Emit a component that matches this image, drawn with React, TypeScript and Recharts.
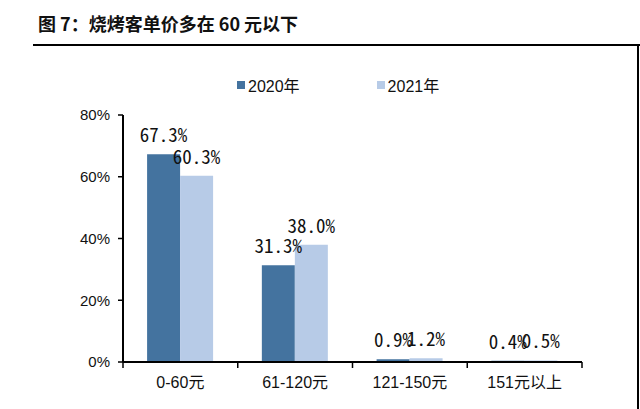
import { BarChart, Bar, XAxis, YAxis, LabelList, Legend } from 'recharts'

const categories = ['0-60元', '61-120元', '121-150元', '151元以上']
const series2020 = [67.3, 31.3, 0.9, 0.4]
const series2021 = [60.3, 38.0, 1.2, 0.5]
const yTicks = [0, 20, 40, 60, 80]

const seriesNames = ['2020年', '2021年']
const colors = ['#44739F', '#B7CBE7']

const data = categories.map((cat, i) => ({
  cat,
  y2020: series2020[i],
  y2021: series2021[i],
}))

const labelFont = '"Noto Sans Mono CJK SC", "DejaVu Sans Mono", monospace'
const axisFont = '"Liberation Sans", "Noto Sans CJK SC", sans-serif'

function CatTick(props: any) {
  const { x, y, payload, index, visibleTicksCount } = props
  const half = payload.offset || 0
  const last = index === visibleTicksCount - 1
  return (
    <g>
      <line x1={x - half} x2={x - half} y1={y} y2={y + 6} stroke="#000" strokeWidth={1.5} />
      {last && <line x1={x + half} x2={x + half} y1={y} y2={y + 6} stroke="#000" strokeWidth={1.5} />}
      <text x={x} y={y + 26} textAnchor="middle" fontSize={16} fontFamily={axisFont} fill="#111">
        {payload.value}
      </text>
    </g>
  )
}

function LegendBox() {
  return (
    <div style={{ display: 'flex', fontFamily: axisFont, fontSize: 16, color: '#111' }}>
      {seriesNames.map((name, i) => (
        <div key={name} style={{ display: 'flex', alignItems: 'center', marginRight: i === 0 ? 77 : 0 }}>
          <span style={{ width: 8, height: 8, background: colors[i], display: 'inline-block', marginRight: 3 }} />
          <span>{name}</span>
        </div>
      ))}
    </div>
  )
}

export default function App() {
  return (
    <div style={{ position: 'absolute', left: 0, top: 0, width: 640, height: 409, background: '#fff' }}>
      <div
        style={{
          position: 'absolute',
          left: 38,
          top: 11,
          fontFamily: '"Noto Sans CJK SC", sans-serif',
          fontWeight: 700,
          fontSize: 18,
          lineHeight: '24px',
          color: '#111',
          whiteSpace: 'nowrap',
        }}
      >
        图 7：烧烤客单价多在 60 元以下
      </div>
      <div style={{ position: 'absolute', left: 33, top: 44, width: 607, height: 2, background: '#000' }} />
      <div style={{ position: 'absolute', left: 637, top: 44, width: 2, height: 365, background: '#000' }} />
      <BarChart
        width={640}
        height={409}
        data={data}
        margin={{ top: 115, right: 58, bottom: 17, left: 73 }}
        barCategoryGap="21%"
        barGap={0}
        style={{ position: 'absolute', left: 0, top: 0 }}
      >
        <Legend
          layout="horizontal"
          verticalAlign="middle"
          align="center"
          wrapperStyle={{ position: 'absolute', left: 237, top: 73, width: 'auto' }}
          content={() => <LegendBox />}
        />
        <XAxis
          dataKey="cat"
          axisLine={{ stroke: '#000', strokeWidth: 2 }}
          tickLine={false}
          tickSize={0}
          tickMargin={0}
          height={30}
          interval={0}
          tick={<CatTick />}
        />
        <YAxis
          domain={[0, 80]}
          ticks={yTicks}
          width={50}
          tickFormatter={(v: number) => `${v}%`}
          axisLine={{ stroke: '#000', strokeWidth: 2 }}
          tickLine={{ stroke: '#000', strokeWidth: 1.5 }}
          tickSize={5}
          tickMargin={8}
          tick={{ fontSize: 15, fontFamily: axisFont, fill: '#111' }}
        />
        <Bar dataKey="y2020" name={seriesNames[0]} fill={colors[0]} isAnimationActive={false}>
          <LabelList
            dataKey="y2020"
            position="top"
            offset={12}
            formatter={(v: any) => `${Number(v).toFixed(1)}%`}
            style={{ fontSize: 19, fontFamily: labelFont, fill: '#111' }}
          />
        </Bar>
        <Bar dataKey="y2021" name={seriesNames[1]} fill={colors[1]} isAnimationActive={false}>
          <LabelList
            dataKey="y2021"
            position="top"
            offset={12}
            formatter={(v: any) => `${Number(v).toFixed(1)}%`}
            style={{ fontSize: 19, fontFamily: labelFont, fill: '#111' }}
          />
        </Bar>
      </BarChart>
    </div>
  )
}
